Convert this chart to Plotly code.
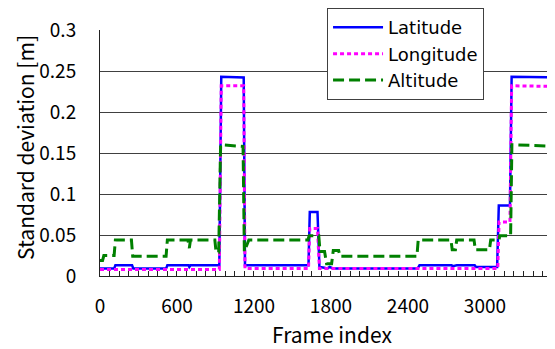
import plotly.graph_objects as go

# ---- data ----
lat_frames = [0, 110, 120, 250, 260, 515, 525, 690, 696, 705, 930, 945, 1120, 1130,
              1625, 1635, 1695, 1710, 1750, 1770, 1790, 1820, 2475, 2490, 2740, 2750,
              2780, 2920, 2930, 3095, 3108, 3195, 3208, 3600]
lat_values = [0.009, 0.009, 0.013, 0.013, 0.009, 0.009, 0.013, 0.013, 0.011, 0.013, 0.013,
              0.243, 0.242, 0.013, 0.013, 0.078, 0.078, 0.011, 0.010, 0.009, 0.011, 0.009,
              0.009, 0.013, 0.013, 0.012, 0.013, 0.013, 0.011, 0.011, 0.086, 0.086, 0.243,
              0.242]

lon_frames = [0, 930, 945, 1120, 1130, 1625, 1635, 1695, 1710, 3100, 3110, 3195, 3208, 3600]
lon_values = [0.008, 0.008, 0.232, 0.232, 0.009, 0.009, 0.058, 0.058, 0.009, 0.009, 0.066,
              0.066, 0.232, 0.231]

alt_frames = [0, 20, 30, 110, 120, 245, 255, 515, 525, 685, 696, 705, 895, 905, 925, 940,
              1115, 1125, 1160, 1620, 1630, 1705, 1715, 1750, 1766, 1805, 1818, 1860, 1870,
              2470, 2480, 2735, 2745, 2770, 2780, 2915, 2925, 3035, 3045, 3110, 3115, 3200,
              3210, 3600]
alt_values = [0.019, 0.019, 0.025, 0.025, 0.044, 0.044, 0.024, 0.024, 0.044, 0.044, 0.034,
              0.044, 0.044, 0.029, 0.029, 0.160, 0.158, 0.030, 0.044, 0.044, 0.049, 0.049,
              0.030, 0.030, 0.015, 0.015, 0.031, 0.031, 0.024, 0.024, 0.044, 0.044, 0.032,
              0.032, 0.044, 0.044, 0.032, 0.032, 0.044, 0.044, 0.049, 0.049, 0.160, 0.158]

series_names = ["Latitude", "Longitude", "Altitude"]
x_title = "Frame index"
y_title = "Standard deviation [m]"
x_tick_step = 75
x_label_step = 600
x_max = 3600
y_ticks = [0, 0.05, 0.1, 0.15, 0.2, 0.25, 0.3]
y_tick_text = ["0", "0.05", "0.1", "0.15", "0.2", "0.25", "0.3"]

FONT = "Noto Sans CJK JP"
LEGEND_FONT = "DejaVu Sans"

fig = go.Figure()
fig.add_trace(go.Scatter(x=lat_frames, y=lat_values, mode="lines", name=series_names[0],
                         line=dict(color="#0000FF", width=2.5)))
fig.add_trace(go.Scatter(x=lon_frames, y=lon_values, mode="lines", name=series_names[1],
                         line=dict(color="#FF00FF", width=3, dash="4px,3px")))
fig.add_trace(go.Scatter(x=alt_frames, y=alt_values, mode="lines", name=series_names[2],
                         line=dict(color="#008000", width=3, dash="11px,5px")))

xt = list(range(0, x_max + 1, x_tick_step))
xtt = [str(v) if v % x_label_step == 0 and v <= 3000 else "" for v in xt]

# the page body has an 8px default margin, so the figure is sized/offset to compensate
fig.update_layout(
    width=547, height=341,
    margin=dict(l=92, r=0, t=22, b=73, autoexpand=False),
    paper_bgcolor="white", plot_bgcolor="white",
    font=dict(family=FONT, size=19, color="black"),
    showlegend=True,
    legend=dict(x=0.499, y=1.089, xanchor="left", yanchor="top",
                bgcolor="white", bordercolor="#404040", borderwidth=1,
                font=dict(family=LEGEND_FONT, size=18), tracegroupgap=0,
                itemwidth=50),
    xaxis=dict(range=[0, 3546], tickmode="array", tickvals=xt, ticktext=xtt,
               ticks="inside", ticklen=5, tickcolor="#222", tickwidth=1,
               showgrid=False, showline=True, linecolor="#222", linewidth=1,
               zeroline=False, tickfont=dict(size=19), automargin=False,
               ticklabelstandoff=13),
    yaxis=dict(range=[0, 0.3], tickmode="array", tickvals=y_ticks, ticktext=y_tick_text,
               ticks="", showgrid=True, gridcolor="#404040", gridwidth=1,
               showline=True, linecolor="#222", linewidth=1, zeroline=False,
               ticklabelstandoff=19, tickfont=dict(size=19), automargin=False),
    annotations=[
        dict(text=x_title, xref="paper", yref="paper", x=0.509, y=-0.236,
             xanchor="center", yanchor="middle", showarrow=False, font=dict(size=21)),
        dict(text=y_title, xref="paper", yref="paper", x=-0.166, y=0.522,
             xanchor="center", yanchor="middle", showarrow=False, textangle=-90,
             font=dict(size=21)),
    ],
)

fig.write_html("out.html")
